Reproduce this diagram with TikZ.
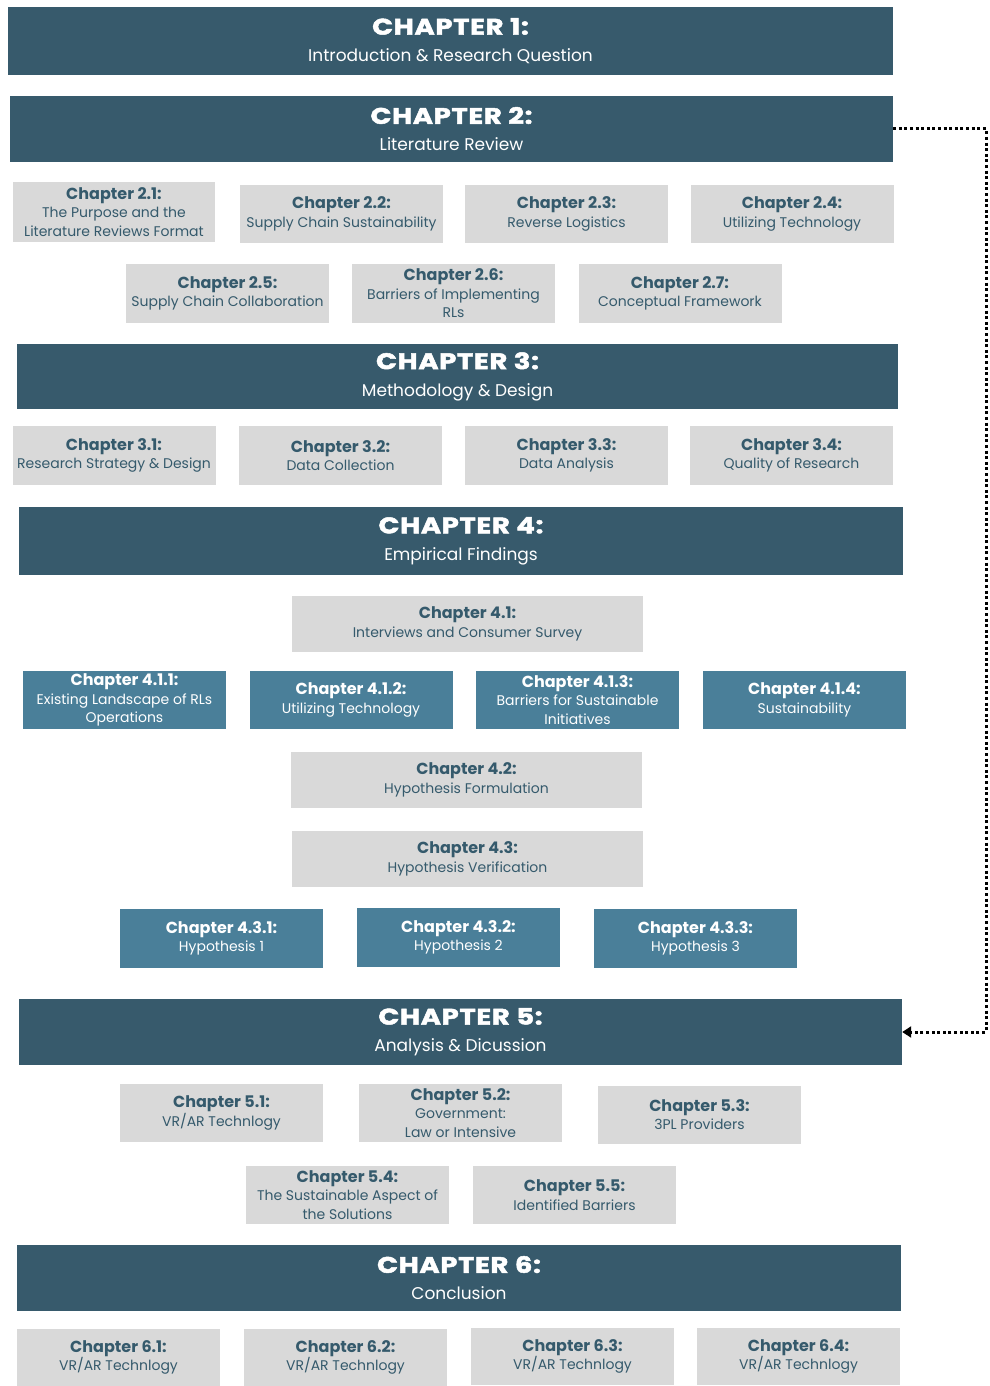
\documentclass[tikz,border=0pt]{standalone}
\usepackage{fontspec}
\setmainfont{Poppins}
\newfontfamily\headfont{Poppins}[UprightFont={* Bold}, UprightFeatures={FakeBold=2.2, FakeStretch=1.22, LetterSpace=3}]
\usetikzlibrary{arrows.meta}
\definecolor{headblue}{HTML}{375A6C}
\definecolor{midblue}{HTML}{4A7F99}
\definecolor{boxgray}{HTML}{D9D9D9}
\definecolor{inkblue}{HTML}{355A6C}
\newcommand\ttl[1]{{\fontsize{16}{18.5}\selectfont\bfseries #1}}
\newcommand\hd[1]{{\fontsize{22.5}{26}\selectfont\headfont #1}}
\begin{document}
\begin{tikzpicture}[x=1pt,y=-1pt,
  chap/.style={rectangle, fill=headblue, text=white, inner sep=0pt, align=center,
    font=\fontsize{17}{27}\selectfont},
  grayb/.style={rectangle, fill=boxgray, text=inkblue, inner sep=0pt, align=center,
    minimum width=203pt, minimum height=58pt, font=\fontsize{14}{18.5}\selectfont},
  blueb/.style={grayb, fill=midblue, text=white},
  wideb/.style={grayb, minimum width=351pt, minimum height=56pt},
  link/.style={draw=black, line width=3pt, dash pattern=on 3pt off 2.6pt,
    -{Triangle[length=9pt,width=11pt]}}]
\useasboundingbox[fill=white] (0,0) rectangle (990,1386);
% chapter 1 and 2
\node[chap, minimum width=885pt, minimum height=68pt] (ch1) at (450.5,41)
  {\hd{CHAPTER 1:}\\Introduction \& Research Question};
\node[chap, minimum width=883pt, minimum height=66pt] (ch2) at (451.5,129)
  {\hd{CHAPTER 2:}\\Literature Review};
\node[grayb, minimum width=202pt, minimum height=60pt] (c21) at (114,212)
  {\ttl{Chapter 2.1:}\\The Purpose and the\\Literature Reviews Format};
\node[grayb] (c22) at (341.5,214) {\ttl{Chapter 2.2:}\\Supply Chain Sustainability};
\node[grayb] (c23) at (566.5,214) {\ttl{Chapter 2.3:}\\Reverse Logistics};
\node[grayb] (c24) at (792,214) {\ttl{Chapter 2.4:}\\Utilizing Technology};
\node[grayb, minimum height=59pt] (c25) at (227.5,293.5) {\ttl{Chapter 2.5:}\\Supply Chain Collaboration};
\node[grayb, minimum height=59pt] (c26) at (453.5,293.5) {\ttl{Chapter 2.6:}\\Barriers of Implementing\\RLs};
\node[grayb, minimum height=59pt] (c27) at (680,293.5) {\ttl{Chapter 2.7:}\\Conceptual Framework};
% chapter 3
\node[chap, minimum width=881pt, minimum height=65pt] (ch3) at (457.5,376.5)
  {\hd{CHAPTER 3:}\\Methodology \& Design};
\node[grayb, minimum height=59pt] (c31) at (114,455.5) {\ttl{Chapter 3.1:}\\Research Strategy \& Design};
\node[grayb, minimum height=59pt] (c32) at (340.5,455.5) {\ttl{Chapter 3.2:}\\Data Collection};
\node[grayb, minimum height=59pt] (c33) at (566.5,455.5) {\ttl{Chapter 3.3:}\\Data Analysis};
\node[grayb, minimum height=59pt] (c34) at (791.5,455.5) {\ttl{Chapter 3.4:}\\Quality of Research};
% chapter 4
\node[chap, minimum width=884pt, minimum height=68pt] (ch4) at (461,541)
  {\hd{CHAPTER 4:}\\Empirical Findings};
\node[wideb] (c41) at (467.5,624) {\ttl{Chapter 4.1:}\\Interviews and Consumer Survey};
\node[blueb] (c411) at (124.5,700) {\ttl{Chapter 4.1.1:}\\Existing Landscape of RLs\\Operations};
\node[blueb] (c412) at (351,700) {\ttl{Chapter 4.1.2:}\\Utilizing Technology};
\node[blueb] (c413) at (577.5,700) {\ttl{Chapter 4.1.3:}\\Barriers for Sustainable\\Initiatives};
\node[blueb] (c414) at (804.5,700) {\ttl{Chapter 4.1.4:}\\Sustainability};
\node[wideb] (c42) at (466.5,780) {\ttl{Chapter 4.2:}\\Hypothesis Formulation};
\node[wideb] (c43) at (467.5,859) {\ttl{Chapter 4.3:}\\Hypothesis Verification};
\node[blueb, minimum height=59pt] (c431) at (221.5,938.5) {\ttl{Chapter 4.3.1:}\\Hypothesis 1};
\node[blueb, minimum height=59pt] (c432) at (458.5,937.5) {\ttl{Chapter 4.3.2:}\\Hypothesis 2};
\node[blueb, minimum height=59pt] (c433) at (695.5,938.5) {\ttl{Chapter 4.3.3:}\\Hypothesis 3};
% chapter 5
\node[chap, minimum width=883pt, minimum height=66pt] (ch5) at (460.5,1032)
  {\hd{CHAPTER 5:}\\Analysis \& Dicussion};
\node[grayb] (c51) at (221.5,1113) {\ttl{Chapter 5.1:}\\VR/AR Technlogy};
\node[grayb] (c52) at (460.5,1113) {\ttl{Chapter 5.2:}\\Government:\\Law or Intensive};
\node[grayb] (c53) at (699.5,1114.5) {\ttl{Chapter 5.3:}\\3PL Providers};
\node[grayb] (c54) at (347.5,1195) {\ttl{Chapter 5.4:}\\The Sustainable Aspect of\\the Solutions};
\node[grayb] (c55) at (574.5,1195) {\ttl{Chapter 5.5:}\\Identified Barriers};
% chapter 6
\node[chap, minimum width=884pt, minimum height=66pt] (ch6) at (459,1278)
  {\hd{CHAPTER 6:}\\Conclusion};
\node[grayb, minimum height=57pt] (c61) at (118.5,1357.5) {\ttl{Chapter 6.1:}\\VR/AR Technlogy};
\node[grayb, minimum height=57pt] (c62) at (345.5,1357.5) {\ttl{Chapter 6.2:}\\VR/AR Technlogy};
\node[grayb, minimum height=57pt] (c63) at (572.5,1356.5) {\ttl{Chapter 6.3:}\\VR/AR Technlogy};
\node[grayb, minimum height=57pt] (c64) at (798.5,1356.5) {\ttl{Chapter 6.4:}\\VR/AR Technlogy};
% feedback link from the literature review to the analysis
\coordinate (turn) at (986,129);
\draw[link] (ch2.east) -- (turn) |- (ch5.east);
\end{tikzpicture}
\end{document}
